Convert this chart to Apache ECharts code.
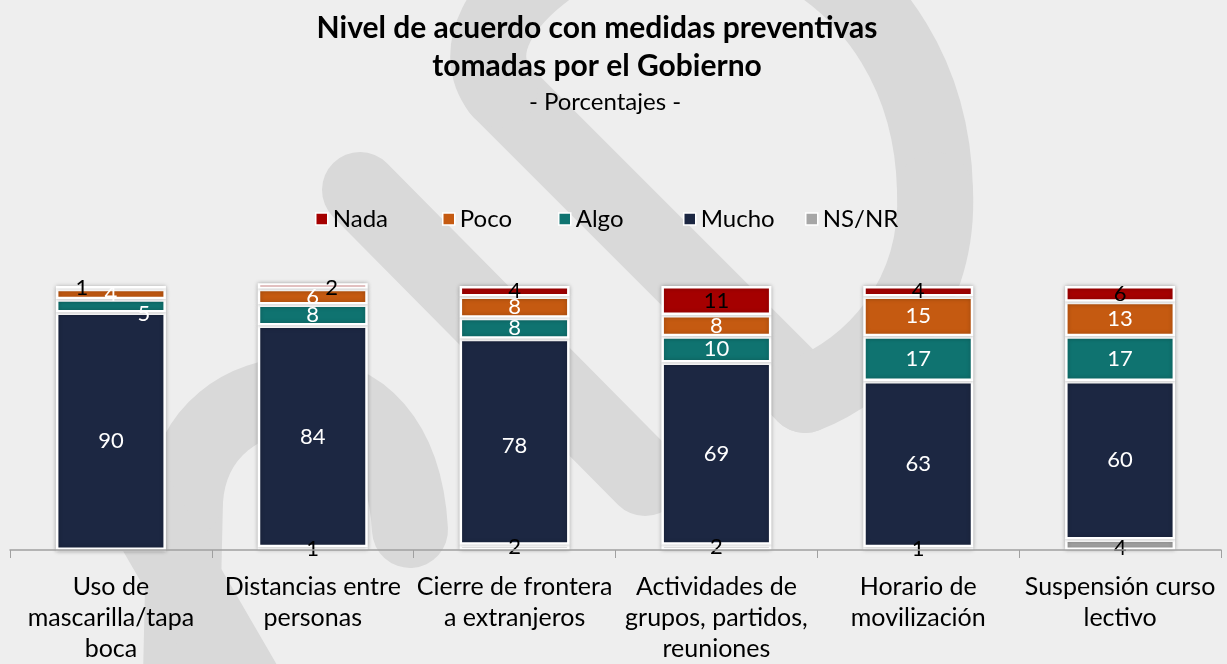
<!DOCTYPE html>
<html>
<head>
<meta charset="utf-8">
<script src="https://cdn.jsdelivr.net/npm/echarts@6/dist/echarts.min.js"></script>
<style>
html,body{margin:0;padding:0;background:#eeeeee;}
#chart{width:1227px;height:664px;}
</style>
</head>
<body>
<div id="chart"></div>
<script>
const categories = [
  "Uso de\nmascarilla/tapa\nboca",
  "Distancias entre\npersonas",
  "Cierre de frontera\na extranjeros",
  "Actividades de\ngrupos, partidos,\nreuniones",
  "Horario de\nmovilización",
  "Suspensión curso\nlectivo"
];
const seriesNames = ["Nada", "Poco", "Algo", "Mucho", "NS/NR"];
const nsnr  = [0, 1, 2, 2, 1, 4];
const mucho = [90, 84, 78, 69, 63, 60];
const algo  = [5, 8, 8, 10, 17, 17];
const poco  = [4, 6, 8, 8, 15, 13];
const nada  = [1, 2, 4, 11, 4, 6];

const FONT = "Lato";
const colors = {
  "Nada": "#a50000",
  "Poco": "#c55a11",
  "Algo": "#0f7370",
  "Mucho": "#1c2742",
  "NS/NR": "#a6a6a6"
};
// label nudges (style only)
const labelOffsets = {
  "Nada": {0: [-29, 1], 1: [19, 2]},
  "Algo": {0: [33, 8]},
  "Mucho": {0: [0, 10], 2: [0, 4]},
  "NS/NR": {5: [0, 3]}
};

function buildData(name, values) {
  return values.map((v, i) => {
    const item = {value: v};
    const off = labelOffsets[name] && labelOffsets[name][i];
    if (off) item.label = {offset: off};
    return item;
  });
}

function barSeries(name, values, labelColor) {
  return {
    name: name,
    type: "bar",
    stack: "total",
    barWidth: 110,
    clip: false,
    data: buildData(name, values),
    itemStyle: {
      color: colors[name],
      borderColor: "#ffffff",
      borderWidth: 2.5,
      shadowBlur: 4,
      shadowColor: "rgba(0,0,0,0.25)"
    },
    label: {
      show: true,
      position: "inside",
      color: labelColor,
      fontFamily: FONT,
      fontSize: 22,
      formatter: p => (p.value === 0 ? "" : String(p.value))
    },
    emphasis: {disabled: true}
  };
}

const legendX = {"Nada": 315, "Poco": 442, "Algo": 558, "Mucho": 683, "NS/NR": 805};
const legends = seriesNames.map(n => ({
  data: [n],
  left: legendX[n],
  top: 205,
  padding: 0,
  itemWidth: 12,
  itemHeight: 12,
  icon: "rect",
  itemStyle: {borderColor: "#ffffff", borderWidth: 1.5},
  textStyle: {fontFamily: FONT, fontSize: 24, color: "#000", lineHeight: 28},
  selectedMode: false
}));

const wmStyle = {fill: null, stroke: "#d9d9d9", lineWidth: 76, lineCap: "round", lineJoin: "round"};
function wLine(x1, y1, x2, y2) {
  return {type: "line", z: -10, silent: true, shape: {x1, y1, x2, y2}, style: wmStyle};
}
function wCurve(x1, y1, cpx1, cpy1, cpx2, cpy2, x2, y2) {
  return {type: "bezierCurve", z: -10, silent: true,
    shape: {x1, y1, cpx1, cpy1, cpx2, cpy2, x2, y2}, style: wmStyle};
}

const option = {
  backgroundColor: "#eeeeee",
  animation: false,
  title: [
    {
      text: "Nivel de acuerdo con medidas preventivas\ntomadas por el Gobierno",
      left: 597, top: 9, textAlign: "center", padding: 0,
      textStyle: {fontFamily: FONT, fontSize: 30, fontWeight: "bold", color: "#000", lineHeight: 38}
    },
    {
      text: "- Porcentajes -",
      left: 605, top: 88, textAlign: "center", padding: 0,
      textStyle: {fontFamily: FONT, fontSize: 24, fontWeight: "normal", color: "#000", lineHeight: 28}
    }
  ],
  legend: legends,
  graphic: [
    wLine(805, 395, 500, 90),
    wCurve(500, 90, 470, 50, 500, 0, 560, -40),
    wCurve(560, -40, 700, -140, 930, -40, 935, 190),
    wCurve(935, 190, 940, 300, 870, 370, 805, 395),
    wLine(360, 190, 645, 478),
    wLine(180, 720, 185, 500),
    wCurve(185, 500, 190, 430, 245, 395, 300, 395),
    wCurve(300, 395, 360, 395, 405, 440, 410, 530),
    wLine(120, 470, 265, 720)
  ],
  grid: {left: 10, right: 6, top: 286, bottom: 111, containLabel: false},
  xAxis: {
    type: "category",
    data: categories,
    axisLine: {show: true, lineStyle: {color: "#a0a0a0", width: 1.5}},
    axisTick: {show: true, length: 8, lineStyle: {color: "#a0a0a0"}},
    axisLabel: {
      interval: 0, margin: 21, color: "#000",
      fontFamily: FONT, fontSize: 25, lineHeight: 31
    },
    z: 5
  },
  yAxis: {type: "value", min: 0, max: 100, show: false},
  series: [
    barSeries("NS/NR", nsnr, "#000"),
    barSeries("Mucho", mucho, "#fff"),
    barSeries("Algo", algo, "#fff"),
    barSeries("Poco", poco, "#fff"),
    barSeries("Nada", nada, "#000")
  ]
};

const chart = echarts.init(document.getElementById("chart"), null, {renderer: "canvas"});
chart.setOption(option);
</script>
</body>
</html>
